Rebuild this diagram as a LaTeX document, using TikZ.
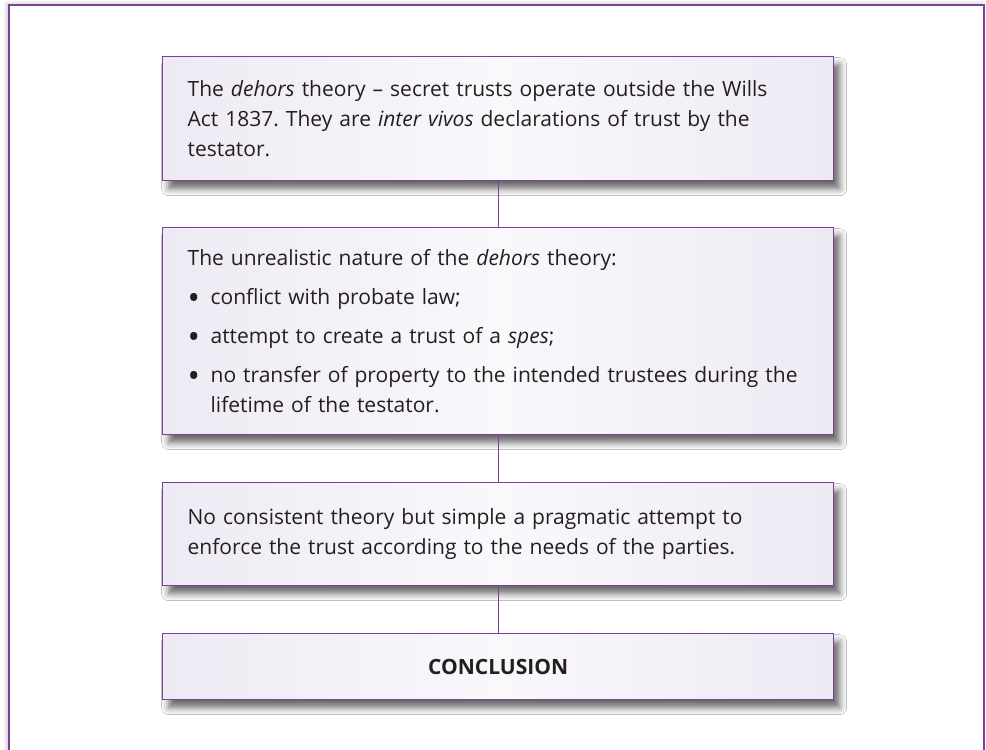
\documentclass[tikz,border=0pt]{standalone}
\usepackage{fontspec}
\setmainfont{Open Sans}
\usetikzlibrary{positioning,shadows.blur}
\definecolor{framepurple}{HTML}{7B3F9E}
\definecolor{boxlav}{HTML}{EEEAF4}
\definecolor{boxlight}{HTML}{F9F8FB}
\definecolor{inkgray}{HTML}{231F20}
\newcommand{\bitem}[1]{\par\vspace{9pt}\noindent
	\makebox[23pt][l]{\raisebox{-4.5pt}{\fontsize{33}{30}\selectfont\textbullet}}%
	\parbox[t]{\dimexpr\linewidth-23pt}{\raggedright #1}}

\begin{document}
\frenchspacing
\begin{tikzpicture}[x=1pt,y=-1pt,
		stage/.style={draw=framepurple,line width=1.3pt,text=inkgray,
			left color=boxlav,right color=boxlav,middle color=boxlight,
			text width=621pt,inner xsep=25pt,inner ysep=0pt,anchor=north west,align=left,
			font=\fontsize{21}{30}\selectfont,
			blur shadow={shadow xshift=6pt,shadow yshift=-8pt,shadow blur radius=7pt,shadow opacity=60}},
		link/.style={draw=framepurple,line width=1pt}]
		\clip (0,0) rectangle (986,750);
		% frame
		\draw[framepurple,line width=1.5pt,fill=white,
			blur shadow={shadow xshift=-2pt,shadow yshift=1pt,shadow blur radius=4pt,shadow opacity=25}]
			(9,5) rectangle (984,790);
		% stages
		\node[stage,minimum height=124] (dehors) at (162,56)
			{The \emph{dehors} theory – secret trusts operate outside the Wills\\
			Act 1837. They are \emph{inter vivos} declarations of trust by the\\
			testator.};
		\node[stage,minimum height=207] (unreal) at (162,227)
			{\noindent The unrealistic nature of the \emph{dehors} theory:
			\bitem{conflict with probate law;}
			\bitem{attempt to create a trust of a \emph{spes};}
			\bitem{no transfer of property to the intended trustees during the\\
				lifetime of the testator.}};
		\node[stage,minimum height=103] (pragma) at (162,482)
			{No consistent theory but simple a pragmatic attempt to\\
			enforce the trust according to the needs of the parties.};
		\node[stage,minimum height=66,align=center] (concl) at (162,633)
			{\textbf{CONCLUSION}};
		% links
		\draw[link] (dehors.south) -- (unreal.north);
		\draw[link] (unreal.south) -- (pragma.north);
		\draw[link] (pragma.south) -- (concl.north);
	\end{tikzpicture}
\end{document}
